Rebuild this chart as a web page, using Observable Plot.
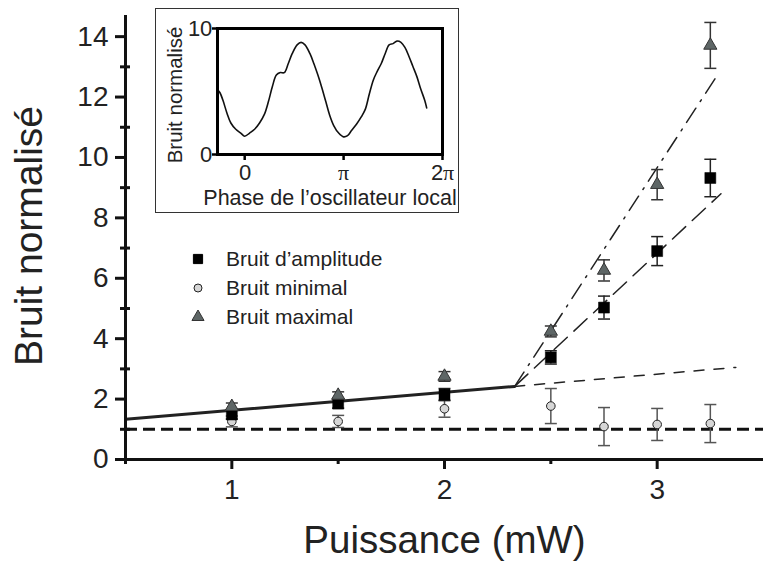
<!DOCTYPE html>
<html><head><meta charset="utf-8">
<script src="https://cdn.jsdelivr.net/npm/d3@7"></script>
<script src="https://cdn.jsdelivr.net/npm/@observablehq/plot@0.6"></script>
<style>
@font-face { font-family: "MixPi"; src: local("Liberation Serif"), local("DejaVu Serif"); unicode-range: U+03C0; }
@font-face { font-family: "MixPi"; src: local("Liberation Sans"); unicode-range: U+0000-02FF; }
body{margin:0;background:#fff;}
#wrap{position:relative;width:763px;height:563px;font-family:"Liberation Sans",Arial,sans-serif;color:#222;}
#inset{position:absolute;left:155px;top:8px;width:304px;height:205px;border:1px solid #333;box-sizing:border-box;background:#fff;}
#legend{position:absolute;left:187px;top:244px;}
.row{height:29px;display:flex;align-items:center;font-size:21px;}
.row svg{width:22px;height:22px;margin-right:17px;}
.vt{position:absolute;white-space:nowrap;line-height:1;transform:translate(-50%,-50%) rotate(-90deg);}
</style></head><body><div id="wrap"><div id="main"></div><div id="inset"></div><div id="legend"></div></div>
<script>
// ---- Main chart data ----
const puissance      = [1.0, 1.5, 2.0, 2.5, 2.75, 3.0, 3.25];
const bruitAmplitude = [1.49, 1.85, 2.15, 3.38, 5.03, 6.90, 9.32];
const errAmplitude   = [0.15, 0.15, 0.20, 0.22, 0.38, 0.48, 0.62];
const bruitMinimal   = [1.26, 1.26, 1.68, 1.77, 1.09, 1.16, 1.19];
const errMinimal     = [0.18, 0.20, 0.28, 0.58, 0.63, 0.53, 0.63];
const bruitMaximal   = [1.75, 2.12, 2.75, 4.24, 6.26, 9.10, 13.71];
const errMaximal     = [0.12, 0.12, 0.16, 0.18, 0.35, 0.50, 0.76];

// fitted lines (x, y end points)
const fitBasX   = [0.5, 2.33],  fitBasY   = [1.33, 2.42];
const fitExtX   = [2.33, 3.37], fitExtY   = [2.42, 3.05];
const fitAmpX   = [2.33, 3.30], fitAmpY   = [2.42, 8.80];
const fitMaxX   = [2.33, 3.29], fitMaxY   = [2.42, 12.80];
const bruitQuantique = [1];

// axes
const xDomain = [0.5, 3.5], yDomain = [0, 14.7];
const xMajor = [1, 2, 3], xMinor = [0.5, 1.5, 2.5];
const yMajor = [0, 2, 4, 6, 8, 10, 12, 14], yMinor = [1, 3, 5, 7, 9, 11, 13];
const xTitle = "Puissance (mW)", yTitle = "Bruit normalisé";
const legendLabels = ["Bruit d’amplitude", "Bruit minimal", "Bruit maximal"];

// ---- Inset data (phase in units of pi) ----
const inPhase = [-0.28,-0.25,-0.22,-0.18,-0.14,-0.09,-0.04,0.00,0.05,0.10,0.15,0.20,0.24,0.28,0.32,0.36,0.40,0.44,0.48,0.53,0.57,0.61,0.66,0.70,0.74,0.78,0.82,0.86,0.90,0.95,1.00,1.04,1.08,1.13,1.18,1.22,1.26,1.30,1.34,1.38,1.42,1.46,1.50,1.54,1.58,1.62,1.66,1.70,1.74,1.78,1.82,1.84];
const inBruit = [5.2,4.9,4.3,3.3,2.5,2.0,1.7,1.45,1.7,2.0,2.5,3.2,4.2,5.4,6.3,6.5,6.5,7.2,8.0,8.7,8.9,8.7,8.0,7.2,6.3,5.3,4.2,3.1,2.3,1.7,1.4,1.5,1.9,2.4,3.0,3.6,4.8,5.9,6.6,7.2,8.0,8.7,8.8,9.0,8.9,8.5,7.8,7.0,6.2,5.2,4.3,3.7];
const inXTicks = [0, 1, 2], inXLabels = ["0", "π", "2π"];
const inYTicks = [0, 10];
const inXTitle = "Phase de l’oscillateur local", inYTitle = "Bruit normalisé";

const font = '"Liberation Sans", Arial, sans-serif';
const zip = (xs, ys, es) => xs.map((x, i) => ({x, y: ys[i], e: es ? es[i] : 0}));
const amp = zip(puissance, bruitAmplitude, errAmplitude);
const mini = zip(puissance, bruitMinimal, errMinimal);
const maxi = zip(puissance, bruitMaximal, errMaximal);
const capSym = {draw(ctx, size){ const w = Math.sqrt(size/Math.PI); ctx.moveTo(-w,0); ctx.lineTo(w,0); }};

function errMarks(data, stroke){
  return [
    Plot.ruleX(data, {x:"x", y1:d=>d.y-d.e, y2:d=>d.y+d.e, stroke, strokeWidth:1.5}),
    Plot.dot(data, {x:"x", y:d=>d.y+d.e, symbol:capSym, r:6, stroke, strokeWidth:1.5}),
    Plot.dot(data, {x:"x", y:d=>d.y-d.e, symbol:capSym, r:6, stroke, strokeWidth:1.5})
  ];
}

const main = Plot.plot({
  width: 763, height: 563,
  marginLeft: 125, marginRight: 0, marginTop: 15, marginBottom: 104,
  x: {domain: xDomain}, y: {domain: yDomain},
  style: {fontFamily: font, fontSize: "28px", color: "#222", background: "white", overflow: "visible"},
  marks: [
    Plot.ruleY(bruitQuantique, {stroke:"#111", strokeWidth:3, strokeDasharray:"12,6"}),
    Plot.line(zip(fitBasX, fitBasY), {x:"x", y:"y", stroke:"#222", strokeWidth:3}),
    Plot.line(zip(fitExtX, fitExtY), {x:"x", y:"y", stroke:"#222", strokeWidth:1.5, strokeDasharray:"10,10"}),
    Plot.line(zip(fitAmpX, fitAmpY), {x:"x", y:"y", stroke:"#222", strokeWidth:1.5, strokeDasharray:"18,9"}),
    Plot.line(zip(fitMaxX, fitMaxY), {x:"x", y:"y", stroke:"#222", strokeWidth:1.5, strokeDasharray:"17,8,2,8"}),
    ...errMarks(mini, "#555"),
    ...errMarks(amp, "#222"),
    ...errMarks(maxi, "#333"),
    Plot.dot(mini, {x:"x", y:"y", r:4.3, fill:"#d6d6d6", stroke:"#222", strokeWidth:1}),
    Plot.dot(amp, {x:"x", y:"y", symbol:"square", r:6.2, fill:"#000", stroke:"#000", strokeWidth:0.5}),
    Plot.dot(maxi, {x:"x", y:"y", symbol:"triangle", r:4.9, fill:"#5e6666", stroke:"#333", strokeWidth:1}),
    Plot.ruleX([xDomain[0]], {stroke:"#111", strokeWidth:3}),
    Plot.ruleY([yDomain[0]], {stroke:"#111", strokeWidth:3}),
    Plot.axisX(xMajor, {tickSize:10, tickPadding:10, strokeWidth:3, stroke:"#111", fill:"#222", fontSize:28, label:null, tickFormat:d=>String(d)}),
    Plot.axisX(xMinor, {tickSize:5, strokeWidth:3, stroke:"#111", text:null, label:null}),
    Plot.axisY(yMajor, {tickSize:10, tickPadding:7, strokeWidth:3, stroke:"#111", fill:"#222", fontSize:28, label:null, tickFormat:d=>String(d)}),
    Plot.axisY(yMinor, {tickSize:10, dx:5, strokeWidth:3, stroke:"#111", text:null, label:null}),
    Plot.text([xTitle], {text:d=>d, frameAnchor:"bottom", dy:81, fontSize:38.5, lineAnchor:"middle", fill:"#222"})
  ]
});
document.getElementById("main").appendChild(main);

// ---- Inset ----
const inset = Plot.plot({
  width: 302, height: 203,
  marginLeft: 61, marginRight: 16, marginTop: 19, marginBottom: 58,
  x: {domain: [-0.275, 2.0]}, y: {domain: [0, 10]},
  style: {fontFamily: '"MixPi", "Liberation Sans", Arial, sans-serif', fontSize: "22px", color: "#222", background: "white", overflow: "visible"},
  marks: [
    Plot.line(zip(inPhase, inBruit), {x:"x", y:"y", stroke:"#111", strokeWidth:1.6, curve:"catmull-rom"}),
    Plot.frame({stroke:"#000", strokeWidth:3}),
    Plot.axisX(inXTicks, {tickSize:6, tickPadding:4, strokeWidth:2.5, stroke:"#000", fill:"#222", fontSize:22, label:null, tickFormat:(d,i)=>inXLabels[i]}),
    Plot.axisY(inYTicks, {tickSize:5, tickPadding:1, strokeWidth:2.5, stroke:"#000", fill:"#222", fontSize:22, label:null, tickFormat:d=>String(d)}),
    Plot.text([inXTitle], {text:d=>d, frameAnchor:"bottom", dy:44, fontSize:21.5, lineAnchor:"middle", fill:"#222", fontFamily:font})
  ]
});
document.getElementById("inset").appendChild(inset);

// ---- Rotated titles (HTML text) ----
const wrap = d3.select("#wrap");
wrap.append("div").attr("class", "vt").style("left", "28px").style("top", "236px").style("font-size", "39px").text(yTitle);
wrap.append("div").attr("class", "vt").style("left", "175px").style("top", "95px").style("font-size", "20.5px").text(inYTitle);

// ---- Legend ----
const legendSym = [
  {type: d3.symbolSquare, r: 5.2, fill: "#000", stroke: "#000"},
  {type: d3.symbolCircle, r: 4, fill: "#d6d6d6", stroke: "#222"},
  {type: d3.symbolTriangle, r: 4.5, fill: "#5e6666", stroke: "#333"}
];
const leg = d3.select("#legend");
legendLabels.forEach((lab, i) => {
  const row = leg.append("div").attr("class", "row");
  const s = legendSym[i];
  row.append("svg").attr("viewBox", "-11 -11 22 22")
    .append("path").attr("d", d3.symbol(s.type, Math.PI * s.r * s.r)())
    .attr("fill", s.fill).attr("stroke", s.stroke).attr("stroke-width", 1);
  row.append("span").text(lab);
});
</script></body></html>
